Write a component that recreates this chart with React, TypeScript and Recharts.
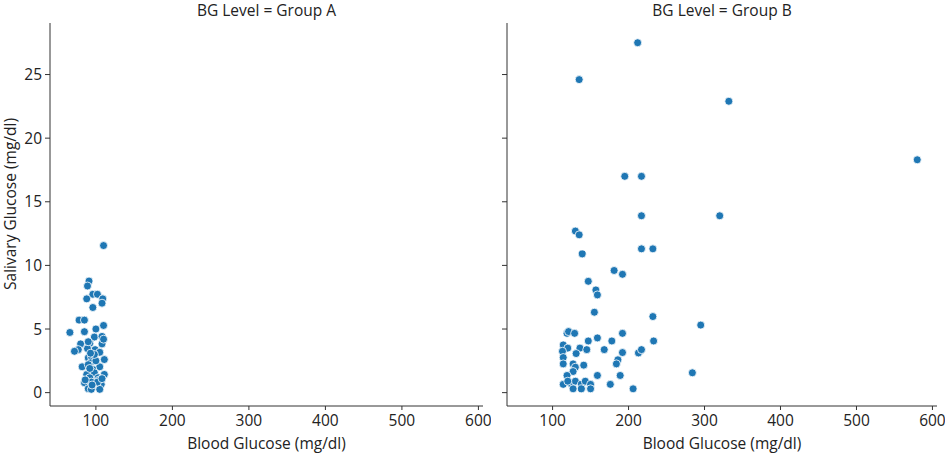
import React from "react";
import { ScatterChart, Scatter, XAxis, YAxis } from "recharts";

const panelTitles = ["BG Level = Group A", "BG Level = Group B"];
const xTicks = [100, 200, 300, 400, 500, 600];
const yTicks = [0, 5, 10, 15, 20, 25];

const groupABlood = [110, 91, 89, 96, 102, 88, 109, 108, 96, 78, 85, 110, 66, 85, 100, 98, 108, 80, 92, 108, 77, 72, 89, 99, 105, 90, 94, 111, 93, 82, 105, 96, 88, 111, 98, 92, 103, 85, 94, 104, 107, 90, 94, 105, 102, 90, 100, 92, 108, 95, 86, 98, 90, 110, 93];
const groupASaliva = [11.56, 8.77, 8.38, 7.73, 7.73, 7.37, 7.37, 7.03, 6.69, 5.7, 5.7, 5.28, 4.73, 4.79, 5.0, 4.37, 4.42, 3.83, 3.88, 3.83, 3.38, 3.25, 3.46, 3.38, 3.17, 2.73, 2.86, 2.6, 2.34, 2.03, 2.03, 1.82, 1.43, 1.43, 1.56, 1.17, 1.17, 0.78, 0.83, 0.98, 0.65, 0.31, 0.26, 0.26, 0.83, 2.2, 2.5, 1.9, 1.1, 0.6, 1.0, 3.0, 4.0, 4.2, 3.1];

const groupBBlood = [212, 135, 332, 580, 195, 217, 217, 320, 130, 135, 217, 232, 139, 181, 192, 147, 157, 159, 155, 232, 295, 119, 121, 129, 192, 159, 147, 178, 233, 114, 136, 145, 120, 168, 113, 131, 192, 213, 217, 114, 186, 184, 114, 127, 141, 130, 127, 119, 159, 189, 284, 114, 124, 125, 130, 138, 143, 150, 120, 127, 138, 150, 176, 206];
const groupBSaliva = [27.5, 24.6, 22.9, 18.3, 17.0, 17.0, 13.9, 13.9, 12.7, 12.4, 11.3, 11.3, 10.9, 9.6, 9.3, 8.75, 8.07, 7.68, 6.32, 5.98, 5.31, 4.66, 4.8, 4.66, 4.66, 4.3, 4.06, 4.06, 4.06, 3.75, 3.5, 3.38, 3.5, 3.38, 3.25, 3.07, 3.15, 3.12, 3.38, 2.76, 2.58, 2.26, 2.26, 2.26, 2.16, 2.0, 1.66, 1.35, 1.35, 1.35, 1.56, 0.65, 0.78, 0.65, 0.9, 0.65, 0.9, 0.65, 0.9, 0.3, 0.3, 0.3, 0.65, 0.3];

const toPoints = (xs: number[], ys: number[]) => xs.map((x, i) => ({ bg: x, sg: ys[i] }));
const dataA = toPoints(groupABlood, groupASaliva);
const dataB = toPoints(groupBBlood, groupBSaliva);

const FONT = "'Open Sans', sans-serif";
const TXT = "#222";
const FS = 15.5;
const dot = (p: any) => (
  <circle cx={p.cx} cy={p.cy} r={4} fill="#1f77b4" stroke="#ffffff" strokeWidth={0.8} />
);

const Panel = ({ data, showY, left, width }: { data: any[]; showY: boolean; left: number; width: number }) => (
  <div style={{ position: "absolute", left, top: 0, width, height: 453 }}>
    <ScatterChart width={width} height={453} margin={{ top: 23, right: 8, bottom: 0, left: 0 }}>
      <XAxis
        type="number"
        dataKey="bg"
        domain={[40, 606]}
        ticks={xTicks}
        allowDataOverflow
        height={47}
        tickSize={4}
        tickMargin={5}
        stroke="#333"
        tick={{ fontSize: FS, fill: TXT, fontFamily: FONT }}
        label={{ value: "Blood Glucose (mg/dl)", position: "insideBottom", offset: 4.5, fontSize: FS, fill: TXT, fontFamily: FONT }}
      />
      <YAxis
        type="number"
        dataKey="sg"
        domain={[-1.05, 29.05]}
        ticks={yTicks}
        allowDataOverflow
        width={50}
        tickSize={5}
        tickMargin={3}
        stroke="#333"
        tick={showY ? { fontSize: FS, fill: TXT, fontFamily: FONT } : () => <g />}
      />
      <Scatter data={data} isAnimationActive={false} shape={dot} />
    </ScatterChart>
  </div>
);

export default function App() {
  return (
    <div style={{ position: "absolute", left: 0, top: 0, width: 945, height: 453, background: "#fff", fontFamily: FONT, color: TXT }}>
      <Panel data={dataA} showY={true} left={0} width={491} />
      <Panel data={dataB} showY={false} left={457} width={488} />
      <div style={{ position: "absolute", left: 50, width: 433, top: 0, textAlign: "center", fontSize: FS, lineHeight: "21px" }}>{panelTitles[0]}</div>
      <div style={{ position: "absolute", left: 507, width: 430, top: 0, textAlign: "center", fontSize: FS, lineHeight: "21px" }}>{panelTitles[1]}</div>
      <div style={{ position: "absolute", left: 10, top: 204, width: 0, height: 0 }}>
        <div style={{ position: "absolute", transform: "translate(-50%, -50%) rotate(-90deg)", whiteSpace: "nowrap", fontSize: FS, lineHeight: "18px" }}>
          Salivary Glucose (mg/dl)
        </div>
      </div>
    </div>
  );
}
